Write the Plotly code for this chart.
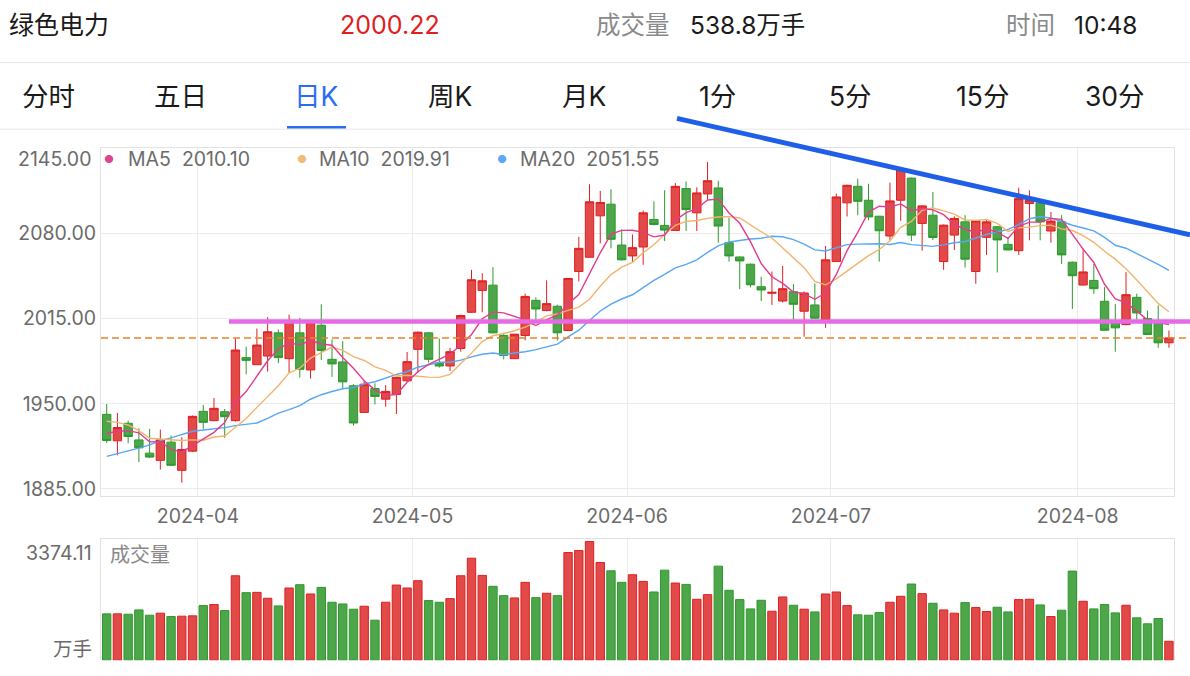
import plotly.graph_objects as go
import pandas as pd

W, H = 1190, 676
FONT = "Inter, 'Noto Sans CJK SC', sans-serif"

# ---------------- data ----------------
holidays = ["2024-04-04", "2024-04-05", "2024-05-01", "2024-05-02", "2024-05-03", "2024-06-10"]
dates = [d for d in pd.bdate_range("2024-03-19", "2024-08-13") if d.strftime("%Y-%m-%d") not in holidays]

open_ = [1941.9, 1921.7, 1935.1, 1922.4, 1912.3, 1906.8, 1920.7, 1899.2, 1913.8, 1944.2,
         1937.1, 1943.9, 1937.1, 1985.2, 1979.8, 1986.4, 2004.1, 1984.4, 2004.1, 1975.8,
         2009.9, 1983.9, 1981.9, 1963.7, 1943.4, 1961.6, 1953.5, 1957.1, 1967.5, 1991.5,
         2004.1, 1980.9, 1978.8, 1992.2, 2019.8, 2036.5, 2040.5, 2002.1, 1984.4, 2002.1,
         2028.9, 2021.1, 2024.4, 2005.9, 2050.9, 2061.8, 2093.4, 2102.3, 2071.1, 2062.8,
         2069.6, 2090.6, 2086.1, 2082.3, 2114.2, 2095.7, 2110.1, 2114.7, 2072.9, 2062.0,
         2056.5, 2039.3, 2034.3, 2028.4, 2035.5, 2020.6, 2025.4, 2014.2, 2058.5, 2103.3,
         2115.9, 2105.3, 2093.1, 2078.0, 2105.3, 2122.2, 2087.6, 2093.9, 2058.5, 2078.7,
         2088.8, 2050.9, 2077.0, 2085.1, 2071.6, 2066.8, 2102.8, 2103.3, 2081.8, 2088.8,
         2058.0, 2040.6, 2044.1, 2028.2, 2011.7, 2010.4, 2031.2, 2015.0, 2011.2, 1996.5]
high = [1949.8, 1942.9, 1937.1, 1931.3, 1930.8, 1930.3, 1925.7, 1924.5, 1940.9, 1949.2,
        1954.3, 1946.0, 1999.8, 1993.5, 2007.4, 2016.0, 2006.7, 2018.0, 2015.5, 2013.0,
        2025.9, 1999.1, 1997.8, 1964.9, 1967.5, 1965.6, 1964.2, 1970.7, 1989.5, 2005.1,
        2004.6, 1999.8, 1992.7, 2018.0, 2052.2, 2049.6, 2054.2, 2004.1, 2003.3, 2034.0,
        2031.2, 2044.1, 2025.6, 2045.9, 2077.4, 2117.5, 2112.4, 2113.6, 2083.0, 2079.2,
        2097.5, 2104.5, 2112.9, 2118.4, 2119.7, 2115.2, 2134.4, 2120.2, 2091.9, 2062.3,
        2057.0, 2046.9, 2050.9, 2055.2, 2041.3, 2035.7, 2041.8, 2070.4, 2110.3, 2117.2,
        2121.7, 2117.9, 2093.4, 2118.7, 2129.3, 2122.5, 2101.5, 2111.6, 2086.8, 2093.1,
        2093.9, 2090.1, 2090.6, 2085.6, 2077.2, 2114.9, 2112.9, 2104.0, 2096.4, 2093.9,
        2058.5, 2068.6, 2056.7, 2039.0, 2026.1, 2050.4, 2034.0, 2021.1, 2025.1, 2005.9]
low = [1920.0, 1910.6, 1919.9, 1905.5, 1908.5, 1899.7, 1902.5, 1889.8, 1913.1, 1930.8,
       1936.6, 1924.0, 1936.4, 1972.5, 1979.8, 1974.5, 1980.9, 1973.7, 1970.0, 1969.2,
       1983.4, 1970.5, 1961.1, 1933.3, 1942.9, 1949.5, 1947.7, 1942.2, 1967.0, 1973.7,
       1981.4, 1977.6, 1975.0, 1989.7, 2019.3, 2019.8, 2003.6, 1983.9, 1984.2, 1998.3,
       2014.2, 2020.6, 1998.3, 2005.4, 2043.3, 2061.6, 2072.4, 2068.6, 2059.3, 2057.5,
       2056.0, 2086.1, 2074.2, 2081.8, 2081.8, 2081.8, 2105.8, 2072.9, 2058.5, 2037.5,
       2038.8, 2028.4, 2025.4, 2027.2, 2014.2, 2001.1, 2014.7, 2007.9, 2058.3, 2092.9,
       2093.9, 2090.1, 2058.5, 2074.9, 2089.6, 2074.2, 2066.8, 2074.9, 2052.2, 2067.3,
       2053.9, 2041.6, 2063.6, 2050.2, 2066.8, 2063.6, 2074.7, 2074.7, 2072.9, 2056.7,
       2022.3, 2040.3, 2033.8, 2005.9, 1989.7, 2009.9, 2014.2, 2002.4, 1992.7, 1992.7]
close = [1921.9, 1931.8, 1925.0, 1916.4, 1909.3, 1922.4, 1903.0, 1915.1, 1940.4, 1935.8,
         1946.5, 1940.1, 1991.0, 1983.1, 1994.8, 2004.9, 1985.2, 2013.5, 1976.3, 2012.2,
         1990.7, 1980.4, 1966.7, 1935.3, 1964.9, 1955.6, 1959.4, 1970.2, 1982.1, 2004.6,
         1983.9, 1978.8, 1989.7, 2017.3, 2044.6, 2043.8, 2004.1, 1986.9, 2003.1, 2031.9,
         2022.3, 2026.4, 2004.1, 2045.6, 2068.6, 2104.1, 2103.6, 2075.5, 2059.8, 2069.1,
         2095.7, 2086.8, 2082.5, 2115.9, 2098.2, 2110.9, 2120.2, 2085.6, 2062.8, 2059.0,
         2040.8, 2036.8, 2035.0, 2037.8, 2025.9, 2034.5, 2015.3, 2059.8, 2107.8, 2116.7,
         2104.5, 2092.6, 2082.0, 2104.8, 2128.6, 2078.7, 2101.0, 2076.9, 2086.3, 2091.4,
         2060.3, 2089.6, 2088.8, 2075.0, 2067.4, 2106.5, 2105.3, 2088.8, 2089.4, 2063.6,
         2047.7, 2050.6, 2037.8, 2006.1, 2007.9, 2033.2, 2019.3, 2002.9, 1996.5, 2000.22]
volume = [1319, 1319, 1309, 1432, 1281, 1338, 1243, 1253, 1262, 1554,
          1583, 1413, 2402, 1922, 1931, 1762, 1545, 2054, 2148, 1884,
          2072, 1649, 1601, 1451, 1535, 1140, 1649, 2138, 2054, 2261,
          1696, 1649, 1752, 2402, 2901, 2412, 2101, 1837, 1771, 2214,
          1780, 1903, 1837, 3062, 3118, 3374.11, 2779, 2543, 2214, 2430,
          2242, 1941, 2562, 2195, 2157, 1733, 1865, 2675, 1988, 1724,
          1460, 1705, 1394, 1799, 1564, 1451, 1375, 1884, 1941, 1554,
          1291, 1281, 1356, 1649, 1818, 2167, 1893, 1620, 1432, 1338,
          1639, 1498, 1385, 1507, 1375, 1724, 1733, 1573, 1243, 1422,
          2534, 1677, 1460, 1583, 1347, 1564, 1206, 1036, 1187, 538.8]

# moving-average values before enough candles are on screen
ma5_head = [1927.5, 1928.8, 1929.5, 1927.8]
ma10_head = [1936.6, 1935.8, 1933.8, 1929.5, 1923.7, 1923.2, 1922.7, 1921.9, 1922.4]
ma20_head = [1909.8, 1911.8, 1913.8, 1916.1, 1918.6, 1921.9, 1923.9, 1926.2, 1929.0, 1930.0,
             1930.8, 1931.8, 1933.3, 1934.3, 1935.3, 1938.9, 1942.9, 1945.5, 1948.5]

y_ticks = [1885, 1950, 2015, 2080]
y_top = 2145
legend_items = [("MA5", "2010.10"), ("MA10", "2019.91"), ("MA20", "2051.55")]
header_name = "绿色电力"
header_price = "2000.22"
header_vol = "538.8万手"
header_time = "10:48"
tabs = ["分时", "五日", "日K", "周K", "月K", "1分", "5分", "15分", "30分"]
vol_max_label = "3374.11"

# ---------------- derived ----------------
x = list(range(len(close)))


def ma(n, head):
    s = pd.Series(close).rolling(n).mean()
    s.iloc[:len(head)] = head
    return s.tolist()


ma5, ma10, ma20 = ma(5, ma5_head), ma(10, ma10_head), ma(20, ma20_head)

month_pos, month_txt = [], []
prev = None
for i, d in enumerate(dates):
    m = d.strftime("%Y-%m")
    if m != prev and i > 0:
        month_pos.append(i - 0.5)
        month_txt.append(m)
    prev = m

RED_F, RED_L = "#E24A4A", "#DE1F1F"
GRN_F, GRN_L = "#4EA64B", "#2C992C"
MA_COLORS = ["#E23C8E", "#F2B46C", "#58A6F4"]
DOT_COLORS = ["#E0448F", "#F0BC78", "#5AA8F6"]
GRID = "#EBEBEB"
AX = "#E2E2E2"

up = [c >= o for o, c in zip(open_, close)]
vol_fill = [RED_F if u else GRN_F for u in up]
vol_line = [RED_L if u else GRN_L for u in up]

DY = 2.5  # small vertical correction


def px(v):
    return v / W


def py(v):
    return 1 - (v + DY) / H


fig = go.Figure()
fig.add_trace(go.Candlestick(
    x=x, open=open_, high=high, low=low, close=close,
    increasing=dict(fillcolor=RED_F, line=dict(color=RED_L, width=1)),
    decreasing=dict(fillcolor=GRN_F, line=dict(color=GRN_L, width=1)),
    whiskerwidth=0, showlegend=False, xaxis="x", yaxis="y"))
for s, c in zip([ma20, ma10, ma5], [MA_COLORS[2], MA_COLORS[1], MA_COLORS[0]]):
    fig.add_trace(go.Scatter(x=x, y=s, mode="lines", line=dict(color=c, width=1.4),
                             showlegend=False, hoverinfo="skip", xaxis="x", yaxis="y"))
fig.add_trace(go.Bar(x=x, y=volume, marker=dict(color=vol_fill, line=dict(color=vol_line, width=1)),
                     showlegend=False, xaxis="x2", yaxis="y2"))

XDOM = [px(101), px(1174.3)]
XR = [-0.53, 99.5]
tickfont = dict(family=FONT, size=19.5, color="#6B6B6B")

fig.update_layout(
    width=W, height=H, margin=dict(l=0, r=0, t=0, b=0),
    paper_bgcolor="white", plot_bgcolor="white",
    boxgap=0.22, boxgroupgap=0, bargap=0.22,
    font=dict(family=FONT),
    xaxis=dict(domain=XDOM, range=XR, anchor="y", tickvals=month_pos, ticktext=month_txt,
               showgrid=True, gridcolor=GRID, showline=True, mirror=True, linecolor=AX,
               ticks="", tickfont=tickfont, ticklabelstandoff=2, zeroline=False,
               rangeslider=dict(visible=False), fixedrange=True),
    yaxis=dict(domain=[py(496.7), py(146.6)], range=[1879.4, y_top], anchor="x",
               tickvals=y_ticks, ticktext=[f"{v:.2f}" for v in y_ticks],
               showgrid=True, gridcolor=GRID, showline=True, mirror=True, linecolor=AX,
               ticks="", tickfont=tickfont, zeroline=False, fixedrange=True),
    xaxis2=dict(domain=XDOM, range=XR, anchor="y2", matches="x", tickvals=month_pos,
                showticklabels=False, showgrid=True, gridcolor=GRID, side="top",
                showline=True, linecolor=AX, ticks="", zeroline=False, fixedrange=True),
    yaxis2=dict(domain=[py(661.7), py(539.7)], range=[0, 3447], anchor="x2",
                showticklabels=False, showgrid=False, showline=True, mirror=True,
                linecolor=AX, ticks="", zeroline=False, fixedrange=True),
)

shapes = [
    dict(type="line", xref="paper", yref="paper", x0=0, x1=1, y0=py(60.5), y1=py(60.5),
         line=dict(color="#E6E6E6", width=1)),
    dict(type="line", xref="paper", yref="paper", x0=0, x1=1, y0=py(127.5), y1=py(127.5),
         line=dict(color="#E6E6E6", width=1)),
    dict(type="line", xref="paper", yref="paper", x0=px(287), x1=px(346), y0=py(125.5), y1=py(125.5),
         line=dict(color="#2B6DF0", width=2.5)),
    dict(type="line", xref="paper", yref="y", x0=px(101), x1=1, y0=close[-1], y1=close[-1],
         line=dict(color="#E8832A", width=1.5, dash="7px,4px"), layer="above"),
    dict(type="line", xref="paper", yref="paper", x0=px(229), x1=1, y0=py(321), y1=py(321),
         line=dict(color="#E66AE6", width=4.5), layer="above"),
    dict(type="line", xref="paper", yref="paper", x0=px(677), x1=1, y0=py(116.6), y1=py(233.7),
         line=dict(color="#1F5EE6", width=4.8), layer="above"),
]
fig.update_layout(shapes=shapes)

ann = []


def text(t, xp, yp, size, color, anchor="left"):
    ann.append(dict(text=t, x=px(xp), y=py(yp), xref="paper", yref="paper", xanchor=anchor,
                    yanchor="middle", showarrow=False, font=dict(family=FONT, size=size, color=color)))


# header
text(header_name, 7, 23, 25, "#1A1A1A")
text(header_price, 390, 23, 25, "#E0201E", "center")
text("成交量", 594, 23, 24.5, "#8A8A8A")
text(header_vol, 688, 23, 24.5, "#1A1A1A")
text("时间", 1004, 23, 24.5, "#8A8A8A")
text(header_time, 1072, 23, 24.5, "#1A1A1A")
# tabs
tab_x = [48, 181, 316, 450, 584, 717, 850, 982, 1115]
for t, tx in zip(tabs, tab_x):
    text(t, tx, 94, 26.5, "#2B6DF0" if t == "日K" else "#1A1A1A", "center")
# legend
leg_dot_x = [109, 302, 502]
leg_txt_x = [126, 317, 518]
for (name, val), dx, tx, dc in zip(legend_items, leg_dot_x, leg_txt_x, DOT_COLORS):
    text("●", dx, 157, 11, dc, "center")
    text(f"{name}  {val}", tx, 157, 19.5, "#6B6B6B")
# top y label (sits just inside the frame)
ann.append(dict(text=f"{y_top:.2f}", x=px(93), xref="paper", y=y_top, yref="y", yshift=-11,
                xanchor="right", yanchor="middle", showarrow=False, font=tickfont))
# volume labels
text(vol_max_label, 94, 554, 19.5, "#6B6B6B", "right")
text("万手", 94, 650, 19.5, "#6B6B6B", "right")
text("成交量", 108, 556, 20, "#888888")
fig.update_layout(annotations=ann)

fig.write_html("out.html")
